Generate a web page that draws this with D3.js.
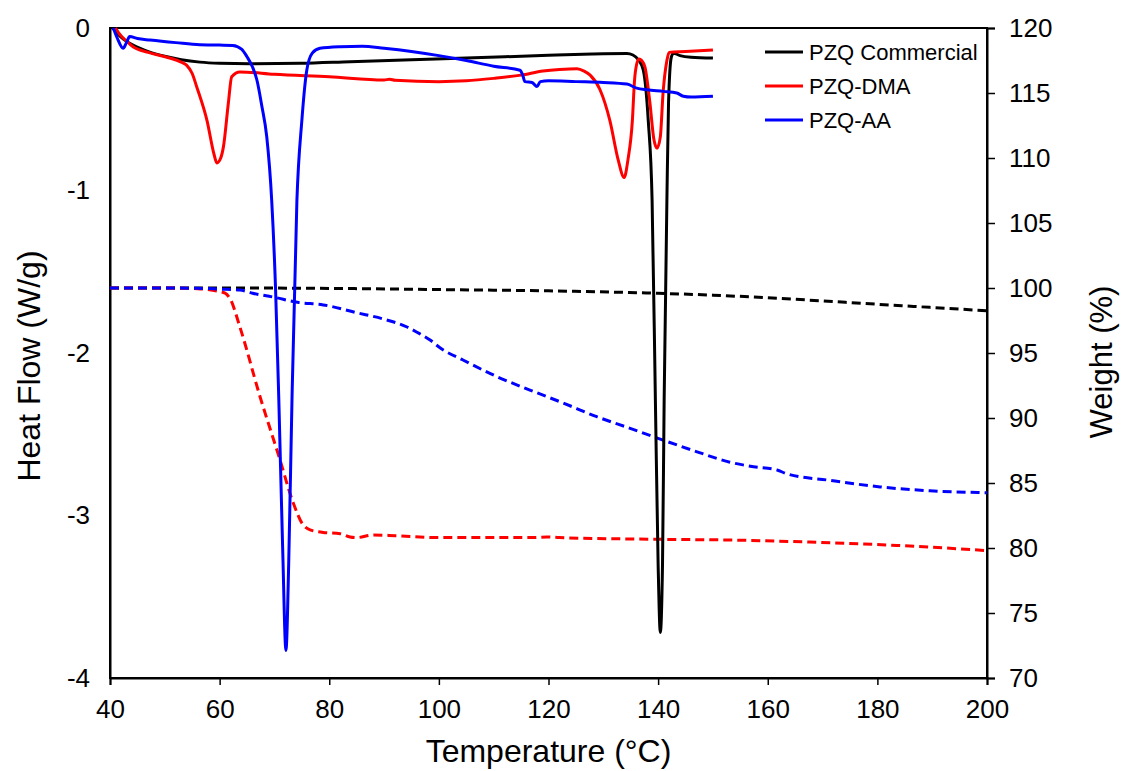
<!DOCTYPE html>
<html>
<head>
<meta charset="utf-8">
<script src="https://cdn.jsdelivr.net/npm/d3@7"></script>
<style>
  body { margin: 0; background: #fff; }
  text { font-family: "Liberation Sans", Arial, sans-serif; fill: #000; }
</style>
</head>
<body>
<div id="chart"></div>
<script>
// values: [temperature °C, value]
const xTicks = [40, 60, 80, 100, 120, 140, 160, 180, 200];
const heatTicks = [0, -1, -2, -3, -4];
const weightTicks = [120, 115, 110, 105, 100, 95, 90, 85, 80, 75, 70];

const seriesNames = ["PZQ Commercial", "PZQ-DMA", "PZQ-AA"];
const seriesColors = ["#000000", "#ff0000", "#0000ff"];

// heat flow (W/g)
const commercialDsc = [[40.5,0],[41.5,-0.04],[42.5,-0.07],[44.2,-0.105],[47,-0.145],[50.4,-0.177],[53,-0.195],[56.4,-0.21],[60,-0.217],[65.5,-0.22],[74.7,-0.217],[83.8,-0.207],[95,-0.195],[105,-0.185],[112,-0.177],[120,-0.168],[128,-0.16],[134.3,-0.157],[135.4,-0.166],[136.5,-0.2],[137.3,-0.26],[138.2,-0.57],[138.9,-1.06],[139.5,-2.29],[140,-3.3],[140.4,-3.72],[140.8,-3.3],[141.1,-2.29],[141.6,-1.06],[141.9,-0.46],[142.4,-0.18],[142.8,-0.155],[144,-0.17],[146,-0.18],[150,-0.185]];
const dmaDsc = [[41,0],[41.8,-0.04],[43,-0.08],[44.2,-0.115],[47,-0.15],[50.4,-0.18],[53,-0.21],[54,-0.23],[55,-0.28],[55.8,-0.36],[57.7,-0.57],[59,-0.78],[59.5,-0.83],[60.2,-0.8],[60.7,-0.73],[61.6,-0.46],[62.2,-0.3],[63.7,-0.27],[70,-0.285],[80,-0.3],[90,-0.32],[91,-0.315],[92,-0.322],[100,-0.33],[105,-0.325],[110,-0.31],[115,-0.29],[119,-0.265],[122,-0.255],[125.2,-0.25],[126.5,-0.265],[127.6,-0.29],[129.4,-0.38],[131.2,-0.57],[132.7,-0.81],[133.8,-0.92],[134.5,-0.81],[135.3,-0.57],[135.7,-0.32],[136.1,-0.22],[136.5,-0.19],[137,-0.2],[137.6,-0.24],[138.5,-0.46],[139.2,-0.68],[139.8,-0.74],[140.4,-0.67],[140.9,-0.4],[141.6,-0.2],[142,-0.15],[145,-0.145],[150,-0.135]];
const aaDsc = [[40.6,0],[41.3,-0.06],[42.4,-0.125],[43,-0.09],[43.6,-0.053],[45,-0.065],[47.3,-0.074],[52,-0.09],[56.4,-0.103],[60,-0.105],[62.4,-0.107],[64,-0.13],[65,-0.177],[66,-0.24],[66.8,-0.32],[67.7,-0.48],[68.6,-0.67],[69.5,-1.06],[70.2,-1.6],[70.8,-2.29],[71.5,-3.2],[72.1,-3.83],[72.6,-3.3],[73.2,-2.29],[74.1,-1.06],[75,-0.57],[75.9,-0.26],[76.9,-0.155],[78.3,-0.125],[82,-0.115],[86,-0.112],[90,-0.125],[95,-0.145],[100,-0.17],[105,-0.2],[110,-0.235],[114.8,-0.26],[115.3,-0.29],[115.7,-0.33],[117,-0.335],[117.9,-0.36],[118.5,-0.33],[120,-0.325],[125,-0.33],[130,-0.335],[134.3,-0.345],[136.1,-0.37],[138,-0.38],[141,-0.39],[143.4,-0.4],[144.6,-0.42],[146,-0.425],[150,-0.42]];

// weight (%)
const commercialTga = [[40,100],[60,100],[80,99.97],[100,99.88],[120,99.78],[136,99.64],[150,99.45],[165,99.13],[180,98.75],[190,98.5],[200,98.25]];
const dmaTga = [[40,100],[50,100],[56,99.95],[59,99.8],[61,99.6],[62,99.1],[63.7,97.0],[67.4,91.6],[71,86.8],[73.4,83.5],[75.2,81.8],[76.5,81.4],[78.9,81.2],[82,81.1],[83.8,80.85],[85,80.8],[88,81.0],[92,80.95],[100,80.8],[110,80.8],[117,80.8],[119.7,80.85],[122,80.8],[140,80.67],[155,80.6],[171.4,80.4],[183.6,80.2],[200,79.8]];
const aaTga = [[40,100],[50,100],[56,99.98],[60,99.92],[63.7,99.85],[66,99.6],[69.8,99.3],[74.2,98.9],[78.9,98.7],[85,98.1],[90,97.6],[94.2,97.0],[96,96.6],[98.4,96.0],[100.2,95.4],[104.4,94.46],[110.6,93.18],[116.6,92.15],[122.7,91.15],[128.8,90.1],[134.9,89.2],[140.9,88.3],[147.1,87.4],[153.1,86.6],[157.4,86.25],[161.7,86.0],[163.5,85.7],[171.4,85.2],[180.5,84.7],[189.6,84.4],[200,84.25]];

const W = 1121, H = 771;
const margin = {top: 28, right: 134, bottom: 93, left: 110};
const width = W - margin.left - margin.right;
const height = H - margin.top - margin.bottom;

const svg = d3.select("#chart").append("svg")
    .attr("width", W)
    .attr("height", H);

const g = svg.append("g")
    .attr("transform", "translate(" + margin.left + "," + margin.top + ")");

const x = d3.scaleLinear().domain([40, 200]).range([0, width]);
const yHeat = d3.scaleLinear().domain([-4, 0]).range([height, 0]);
const yWeight = d3.scaleLinear().domain([70, 120]).range([height, 0]);

// frame
g.append("rect")
    .attr("width", width)
    .attr("height", height)
    .attr("fill", "none")
    .attr("stroke", "#000")
    .attr("stroke-width", 2);

// axes (plain hyphen for negatives, like the original)
const plain = d => String(d);

const xAxis = g.append("g")
    .attr("transform", "translate(0," + height + ")")
    .call(d3.axisBottom(x).tickValues(xTicks).tickFormat(plain).tickSize(7).tickPadding(15));

const leftAxis = g.append("g")
    .call(d3.axisLeft(yHeat).tickValues(heatTicks).tickFormat(plain).tickSize(0).tickPadding(20));

const rightAxis = g.append("g")
    .attr("transform", "translate(" + width + ",0)")
    .call(d3.axisRight(yWeight).tickValues(weightTicks).tickFormat(plain).tickSize(8).tickPadding(14));

[xAxis, leftAxis, rightAxis].forEach(function (a) {
    a.select(".domain").attr("stroke", "#000").attr("stroke-width", 2);
    a.selectAll(".tick line").attr("stroke", "#000").attr("stroke-width", 1.5);
    a.selectAll(".tick text").style("font-size", "26px").attr("fill", "#000");
});

// axis titles
svg.append("text")
    .attr("x", margin.left + width / 2)
    .attr("y", 762)
    .attr("text-anchor", "middle")
    .style("font-size", "32px")
    .text("Temperature (°C)");

svg.append("text")
    .attr("transform", "translate(40,366) rotate(-90)")
    .attr("text-anchor", "middle")
    .style("font-size", "32px")
    .text("Heat Flow (W/g)");

svg.append("text")
    .attr("transform", "translate(1112,362) rotate(-90)")
    .attr("text-anchor", "middle")
    .style("font-size", "31px")
    .text("Weight (%)");

// lines
const heatLine = d3.line()
    .x(d => x(d[0]))
    .y(d => yHeat(d[1]))
    .curve(d3.curveMonotoneX);

const weightLine = d3.line()
    .x(d => x(d[0]))
    .y(d => yWeight(d[1]))
    .curve(d3.curveMonotoneX);

const tgaSets = [commercialTga, dmaTga, aaTga];
const dscSets = [commercialDsc, dmaDsc, aaDsc];

tgaSets.forEach(function (data, i) {
    g.append("path")
        .datum(data)
        .attr("fill", "none")
        .attr("stroke", seriesColors[i])
        .attr("stroke-width", 3)
        .attr("stroke-dasharray", "9,5")
        .attr("d", weightLine);
});

dscSets.forEach(function (data, i) {
    g.append("path")
        .datum(data)
        .attr("fill", "none")
        .attr("stroke", seriesColors[i])
        .attr("stroke-width", 3)
        .attr("d", heatLine);
});

// legend
const legend = svg.append("g")
    .attr("transform", "translate(765,52)");

const items = legend.selectAll("g")
    .data(seriesNames)
    .enter()
    .append("g")
    .attr("transform", (d, i) => "translate(0," + i * 34 + ")");

items.append("line")
    .attr("x1", 0)
    .attr("x2", 38)
    .attr("stroke", (d, i) => seriesColors[i])
    .attr("stroke-width", 3);

items.append("text")
    .attr("x", 44)
    .attr("dy", "0.35em")
    .style("font-size", "22px")
    .text(d => d);
</script>
</body>
</html>
